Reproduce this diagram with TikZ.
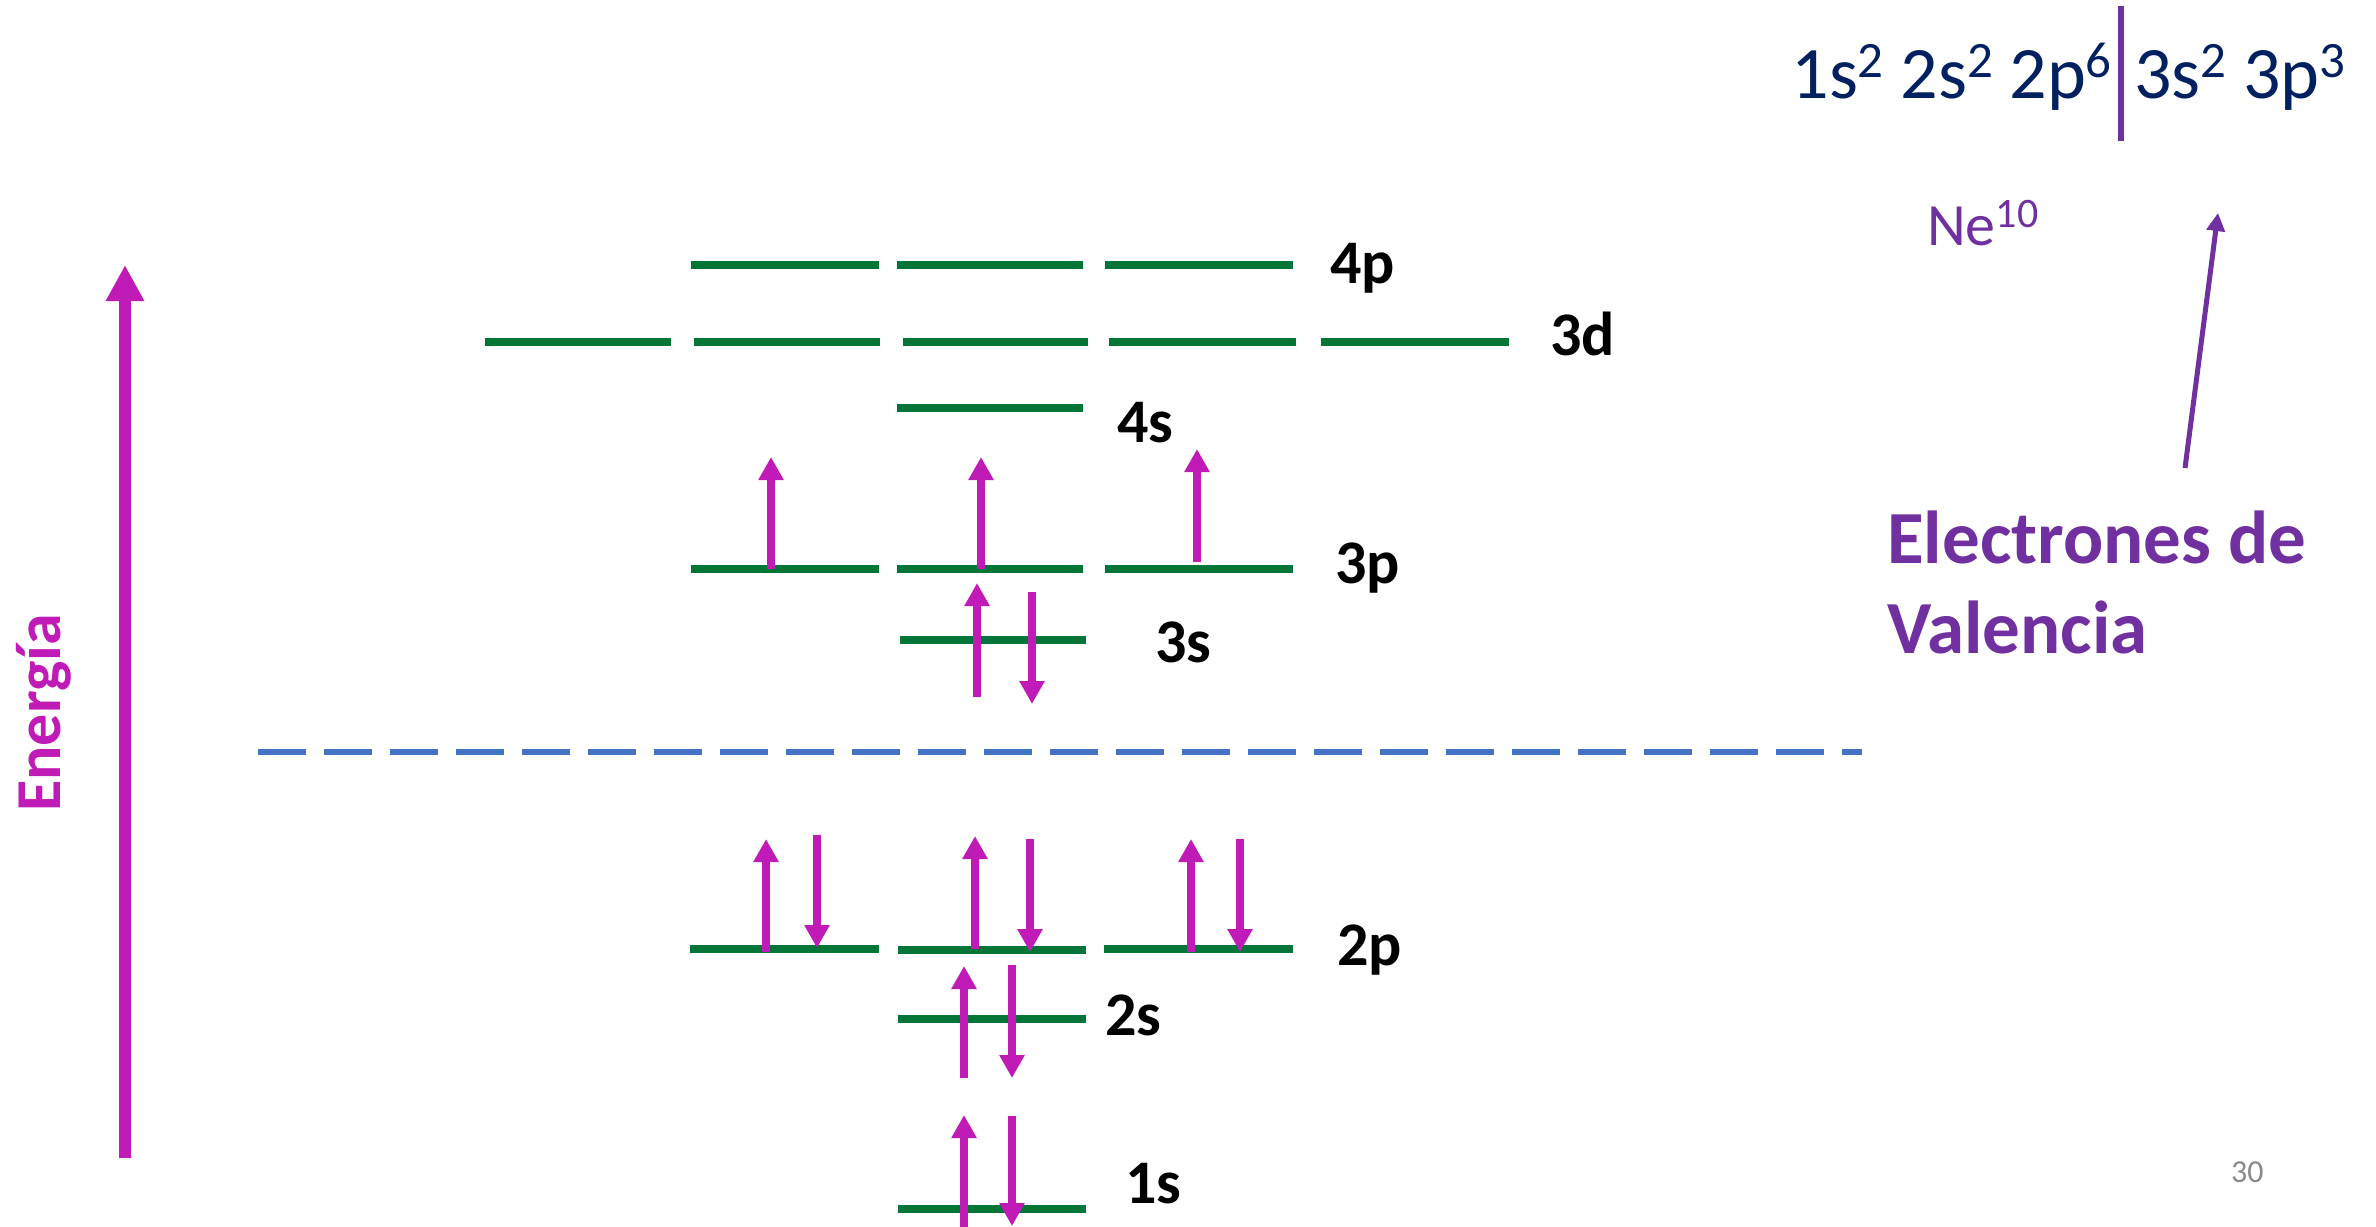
\documentclass[tikz,border=0pt]{standalone}
\usepackage{fontspec}
\setmainfont{Carlito}
\usetikzlibrary{arrows.meta}
\definecolor{lvgreen}{RGB}{3,118,55}
\definecolor{spinmag}{RGB}{193,27,183}
\definecolor{dashblue}{RGB}{68,114,196}
\definecolor{cfgnavy}{RGB}{0,32,96}
\definecolor{vpurple}{RGB}{112,48,160}
\definecolor{pagegray}{RGB}{137,137,137}
\newcommand{\supa}[1]{\raisebox{21pt}{\fontsize{51}{51}\selectfont #1}}
\newcommand{\supb}[1]{\raisebox{18pt}{\fontsize{42}{42}\selectfont #1}}
\begin{document}
\begin{tikzpicture}[x=1pt,y=-1pt,
  level/.style={draw=lvgreen, line width=8pt},
  spin/.style={draw=spinmag, line width=8pt, -{Triangle[width=24pt,length=23pt]}},
  lbl/.style={font=\fontsize{62}{62}\selectfont\bfseries, inner sep=0, anchor=base west},
  cfg/.style={font=\fontsize{74}{74}\selectfont, text=cfgnavy, inner sep=0}]
\clip (0,0) rectangle (2376,1226);
\fill[white] (0,0) rectangle (2376,1226);

% energy levels
\foreach \a/\b/\y in {691/879/265, 897/1083/265, 1105/1293/265,
  485/671/342, 694/880/342, 903/1088/342, 1109/1296/342, 1321/1509/342,
  897/1083/408,
  691/879/569, 897/1083/569, 1105/1293/569,
  900/1086/640,
  690/879/949, 898/1086/950, 1104/1293/949,
  898/1086/1019,
  898/1086/1209}
  \draw[level] (\a,\y) -- (\b,\y);

% separator
\draw[dashblue, line width=6pt, dash pattern=on 48pt off 18pt] (258,752) coordinate (sepL) -- (1862,752) coordinate (sepR);

% electrons
\foreach \x/\ya/\yb in {771/569/457, 981/569/457, 1197/562/449,
  977/697/583, 1032/592/704,
  766/952/839, 817/835/948, 975/949/836, 1030/839/952, 1191/952/839, 1240/839/952,
  964/1078/966, 1012/965/1078,
  964/1240/1115, 1012/1116/1226}
  \draw[spin] (\x,\ya) -- (\x,\yb);

% level labels
\node[lbl] (l4p) at (1330,283) {4p};
\node[lbl] (l3d) at (1550,355) {3d};
\node[lbl] (l4s) at (1117,442) {4s};
\node[lbl] (l3p) at (1335,583) {3p};
\node[lbl] (l3s) at (1155,662) {3s};
\node[lbl] (l2p) at (1337,965) {2p};
\node[lbl] (l2s) at (1105,1035) {2s};
\node[lbl] (l1s) at (1125,1203) {1s};

% energy axis
\coordinate (eBot) at (125,1158);
\coordinate (eTop) at (125,265);
\draw[spinmag, line width=12pt, -{Triangle[width=36pt,length=36pt]}] (eBot) -- (eTop);
\node[font=\fontsize{64}{64}\selectfont\bfseries, text=spinmag, rotate=90, anchor=base, inner sep=0] (energia) at (60,713) {Energía};

% configuration
\node[cfg, anchor=base east] (cfgL) at (2112,98) {1s\supa{2} 2s\supa{2} 2p\supa{6}};
\node[cfg, anchor=base west] (cfgR) at (2134,98) {3s\supa{2} 3p\supa{3}};
\coordinate (barT) at (2121,6);
\coordinate (barB) at (2121,141);
\draw[vpurple, line width=6pt] (barT) -- (barB);

\node[font=\fontsize{60}{60}\selectfont, text=vpurple, inner sep=0, anchor=base west] (ne) at (1927,245) {Ne\supb{10}};

\node[font=\fontsize{75}{75}\selectfont\bfseries, text=vpurple, inner sep=0, anchor=base west] (val1) at (1887,563) {Electrones de};
\node[font=\fontsize{75}{75}\selectfont\bfseries, text=vpurple, inner sep=0, anchor=base west] (val2) at (1887,653) {Valencia};
\coordinate (vaS) at (2185,468);
\coordinate (vaE) at (2218,213);
\draw[vpurple, line width=5pt, -{Triangle[width=18pt,length=18pt]}] (vaS) -- (vaE);

\node[font=\fontsize{32}{32}\selectfont, text=pagegray, inner sep=0, anchor=base west] (pg) at (2231,1182) {30};
\end{tikzpicture}
\end{document}
